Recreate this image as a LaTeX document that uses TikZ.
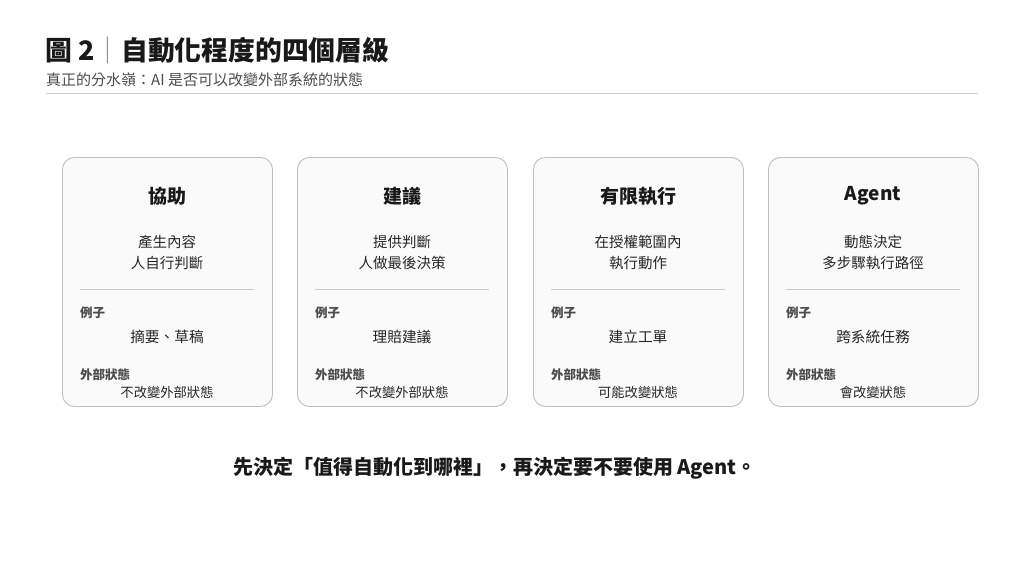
\documentclass[tikz,border=0pt]{standalone}
\usepackage{fontspec}
\setmainfont{Noto Sans CJK TC}
\begin{document}
\begin{tikzpicture}[x=1pt,y=-1pt,
  card/.style={draw=black!25,fill=black!2,rounded corners=12pt,line width=0.9pt,minimum width=210pt,minimum height=249pt,anchor=north west},
  cardtitle/.style={font=\fontsize{19}{21}\selectfont\bfseries,text=black!90},
  desc/.style={font=\fontsize{14.5}{21}\selectfont,text=black!85,align=center},
  lab/.style={font=\fontsize{12.5}{14}\selectfont\bfseries,text=black!70,anchor=west},
  val/.style={font=\fontsize{14.7}{16}\selectfont,text=black!85},
  sval/.style={font=\fontsize{13.3}{15}\selectfont,text=black!85},
  sep/.style={draw=black!20,line width=0.8pt}]
\useasboundingbox (0,0) rectangle (1024,576);
\fill[white] (0,0) rectangle (1024,576);
\node[anchor=west,font=\fontsize{26.8}{28}\selectfont\bfseries,text=black!90,inner sep=0] (title) at (45,50) {圖 2{\mdseries\color{black!45}｜}自動化程度的四個層級};
\node[anchor=west,font=\fontsize{15}{17}\selectfont,text=black!70,inner sep=0] (sub) at (46,80) {真正的分水嶺：AI 是否可以改變外部系統的狀態};
\coordinate (hl) at (46,93);
\coordinate (hr) at (978,93);
\draw[draw=black!20,line width=0.8pt] (hl) -- (hr);
\foreach \i/\x/\t/\da/\db/\ex/\st in {
  1/62/協助/產生內容/人自行判斷/摘要、草稿/不改變外部狀態,
  2/297/建議/提供判斷/人做最後決策/理賠建議/不改變外部狀態,
  3/533/有限執行/在授權範圍內/執行動作/建立工單/可能改變狀態,
  4/768/Agent/動態決定/多步驟執行路徑/跨系統任務/會改變狀態}{
  \node[card] (c\i) at (\x,157) {};
  \node[cardtitle] (t\i) at (\x+105,196) {\t};
  \node[desc] (d\i) at (\x+105,252.5) {\da\\\db};
  \coordinate (sl\i) at (\x+18,289);
  \coordinate (sr\i) at (\x+192,289);
  \draw[sep] (sl\i) -- (sr\i);
  \node[lab,inner sep=0] (l\i) at (\x+18,313) {例子};
  \node[val] (e\i) at (\x+105,337) {\ex};
  \node[lab,inner sep=0] (m\i) at (\x+18,375) {外部狀態};
  \node[sval] (s\i) at (\x+105,392) {\st};
}
\node[font=\fontsize{20}{22}\selectfont\bfseries,text=black!90] (foot) at (495,468) {先決定「值得自動化到哪裡」，再決定要不要使用 Agent。};
\end{tikzpicture}
\end{document}
